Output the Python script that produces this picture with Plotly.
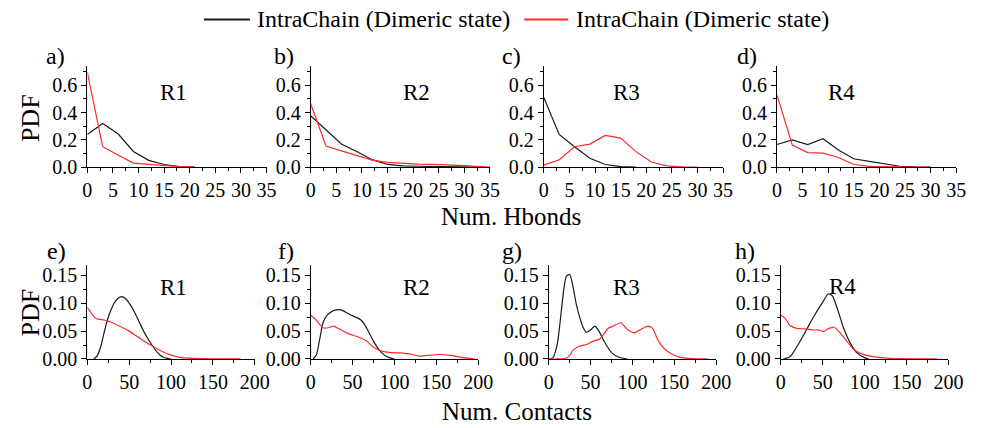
import plotly.graph_objects as go

# ---------------- data ----------------
# Top row: Num. Hbonds
a_black_x = [0, 3, 6, 9, 12, 15, 18, 21]
a_black_y = [0.24, 0.32, 0.245, 0.115, 0.05, 0.02, 0.005, 0.0]
a_red_x = [0, 3, 6, 9, 12, 15, 18, 21]
a_red_y = [0.695, 0.15, 0.09, 0.03, 0.02, 0.01, 0.004, 0.0]

b_black_x = [0, 3, 6, 9, 12, 15, 18, 21, 24, 27, 30, 33]
b_black_y = [0.377, 0.27, 0.17, 0.115, 0.055, 0.02, 0.01, 0.007, 0.005, 0.003, 0.001, 0.0]
b_red_x = [0, 3, 6, 9, 12, 15, 18, 21, 24, 27, 30, 33, 35]
b_red_y = [0.465, 0.155, 0.12, 0.085, 0.052, 0.035, 0.028, 0.022, 0.02, 0.018, 0.012, 0.004, 0.0]

c_black_x = [0, 3, 6, 9, 12, 15, 18]
c_black_y = [0.51, 0.24, 0.15, 0.066, 0.02, 0.004, 0.0]
c_red_x = [0, 3, 6, 9, 12, 15, 18, 21, 24, 27, 30]
c_red_y = [0.015, 0.055, 0.15, 0.169, 0.233, 0.213, 0.114, 0.038, 0.01, 0.002, 0.0]

d_black_x = [0, 3, 6, 9, 12, 15, 18, 21, 24, 27, 30]
d_black_y = [0.166, 0.20, 0.166, 0.209, 0.126, 0.062, 0.043, 0.024, 0.007, 0.002, 0.0]
d_red_x = [0, 3, 6, 9, 12, 15, 18, 21, 24, 27, 30]
d_red_y = [0.53, 0.162, 0.107, 0.103, 0.071, 0.02, 0.006, 0.003, 0.001, 0.0, 0.0]

# Bottom row: Num. Contacts
e_black_x = [8, 12, 16, 20, 24, 28, 32, 36, 41, 46, 51, 57, 63, 69, 75, 81, 86, 91, 96, 100]
e_black_y = [0, 0.006, 0.022, 0.047, 0.07, 0.087, 0.1, 0.108, 0.112, 0.108, 0.098, 0.082,
             0.063, 0.045, 0.03, 0.017, 0.008, 0.003, 0.001, 0]
e_red_x = [0, 5, 10, 15, 20, 25, 30, 40, 50, 60, 70, 80, 90, 100, 110, 120, 135, 150, 165, 183]
e_red_y = [0.092, 0.082, 0.073, 0.071, 0.07, 0.068, 0.065, 0.058, 0.05, 0.04, 0.03, 0.021,
           0.013, 0.007, 0.003, 0.0015, 0.0007, 0.0004, 0.0002, 0.0]

f_black_x = [3, 7, 11, 15, 20, 25, 30, 36, 42, 48, 54, 60, 66, 70, 75, 80, 85, 90, 95, 100]
f_black_y = [0, 0.008, 0.037, 0.066, 0.079, 0.085, 0.088, 0.088, 0.084, 0.079, 0.075, 0.07,
             0.058, 0.046, 0.032, 0.02, 0.011, 0.005, 0.002, 0]
f_red_x = [0, 7, 15, 21, 27, 34, 44, 56, 66, 75, 85, 99, 108, 118, 130, 143, 153, 169, 180, 196]
f_red_y = [0.079, 0.069, 0.056, 0.056, 0.059, 0.054, 0.046, 0.04, 0.033, 0.021, 0.014, 0.011,
           0.011, 0.009, 0.005, 0.007, 0.008, 0.006, 0.003, 0]

g_black_x = [0, 5, 10, 12, 15, 18, 21, 25, 29, 33, 37, 41, 45, 50, 55, 60, 65, 70, 76, 84, 94]
g_black_y = [0, 0.002, 0.025, 0.045, 0.085, 0.125, 0.148, 0.152, 0.13, 0.098, 0.075, 0.057,
             0.048, 0.052, 0.059, 0.05, 0.035, 0.022, 0.01, 0.003, 0]
g_red_x = [0, 10, 20, 25, 29, 35, 45, 53, 61, 66, 71, 77, 86, 94, 102, 110, 118, 124, 131,
           139, 147, 157, 167, 180, 190]
g_red_y = [0, 0, 0.001, 0.006, 0.0155, 0.022, 0.026, 0.032, 0.036, 0.045, 0.055, 0.059, 0.065,
           0.053, 0.047, 0.053, 0.059, 0.055, 0.032, 0.017, 0.009, 0.003, 0.001, 0.0002, 0]

h_black_x = [3, 11, 20.7, 30.4, 40, 50, 56.6, 61.6, 67.5, 75, 83, 90.8, 100.5, 105]
h_black_y = [0, 0.004, 0.026, 0.052, 0.078, 0.102, 0.117, 0.113, 0.09, 0.055, 0.028, 0.011, 0.002, 0]
h_red_x = [0, 5, 11, 19, 29, 40, 46, 51, 56, 63.5, 69.5, 77, 87, 95, 106.5, 122, 141.5, 165, 186.5]
h_red_y = [0.079, 0.073, 0.06, 0.055, 0.054, 0.052, 0.052, 0.049, 0.054, 0.057, 0.049, 0.035,
           0.017, 0.01, 0.005, 0.002, 0.0005, 0.0002, 0]

panel_letters = ["a)", "b)", "c)", "d)", "e)", "f)", "g)", "h)"]
region_labels = ["R1", "R2", "R3", "R4", "R1", "R2", "R3", "R4"]
legend_names = ["IntraChain (Dimeric state)", "IntraChain (Dimeric state)"]
x_title_top = "Num. Hbonds"
x_title_bottom = "Num. Contacts"
y_title = "PDF"

# ---------------- layout ----------------
W, H = 982, 428
FONT = "Liberation Serif, Times New Roman, serif"
BLACK = "#1a1a1a"
RED = "#ff2a2a"
TICK_SIZE = 20

series = [
    (a_black_x, a_black_y, a_red_x, a_red_y),
    (b_black_x, b_black_y, b_red_x, b_red_y),
    (c_black_x, c_black_y, c_red_x, c_red_y),
    (d_black_x, d_black_y, d_red_x, d_red_y),
    (e_black_x, e_black_y, e_red_x, e_red_y),
    (f_black_x, f_black_y, f_red_x, f_red_y),
    (g_black_x, g_black_y, g_red_x, g_red_y),
    (h_black_x, h_black_y, h_red_x, h_red_y),
]

top_x = [(84, 267), (312, 495), (550, 733), (788, 971)]
bot_x = [(84, 255), (312, 483), (555, 726), (792, 963)]
top_y = (67, 171)
bot_y = (272, 368.3)

def px2x(p):
    return p / W

def px2y(p):
    return 1 - p / H

fig = go.Figure()
layout = dict(
    width=W, height=H,
    margin=dict(l=0, r=0, t=0, b=0),
    paper_bgcolor="white", plot_bgcolor="white",
    font=dict(family=FONT, size=TICK_SIZE, color="black"),
    showlegend=False,
    hovermode=False,
    # bottom row x title drawn as the layout title (not clamped like annotations)
    title=dict(text=x_title_bottom, x=px2x(517), xanchor="center", xref="container",
               y=px2y(411), yanchor="middle", yref="container",
               font=dict(family=FONT, size=25, color="black")),
)

annotations = []
shapes = []
for i in range(8):
    top = i < 4
    k = i + 1
    xs = "" if k == 1 else str(k)
    xd = top_x[i] if top else bot_x[i - 4]
    yd = top_y if top else bot_y
    common = dict(showline=True, linecolor="black", linewidth=1, showgrid=False,
                  zeroline=False, ticks="outside", tickcolor="black", ticklen=5,
                  tickwidth=1, tickfont=dict(family=FONT, size=TICK_SIZE, color="black"))
    if top:
        xax = dict(domain=[px2x(xd[0]), px2x(xd[1])], range=[0, 35], tickmode="linear",
                   tick0=0, dtick=5,
                   minor=dict(ticks="outside", dtick=2.5, ticklen=3, tickcolor="black"),
                   anchor="y" + xs, **common)
        yax = dict(domain=[px2y(yd[1]), px2y(yd[0])], range=[0, 0.74], tickmode="linear",
                   tick0=0, dtick=0.2, tickformat=".1f",
                   minor=dict(ticks="outside", dtick=0.1, ticklen=3, tickcolor="black"),
                   anchor="x" + xs, **common)
    else:
        xax = dict(domain=[px2x(xd[0]), px2x(xd[1])], range=[0, 200], tickmode="linear",
                   tick0=0, dtick=50,
                   minor=dict(ticks="outside", dtick=25, ticklen=3, tickcolor="black"),
                   anchor="y" + xs, **common)
        yax = dict(domain=[px2y(yd[1]), px2y(yd[0])], range=[0, 0.168], tickmode="linear",
                   tick0=0, dtick=0.05, tickformat=".2f",
                   minor=dict(ticks="outside", dtick=0.025, ticklen=3, tickcolor="black"),
                   anchor="x" + xs, **common)
    layout["xaxis" + xs] = xax
    layout["yaxis" + xs] = yax

    bx, by, rx, ry = series[i]
    shape = "linear" if top else "spline"
    fig.add_trace(go.Scatter(x=bx, y=by, mode="lines", xaxis="x" + xs, yaxis="y" + xs,
                             line=dict(color=BLACK, width=1.2, shape=shape, smoothing=0.6),
                             name=legend_names[0]))
    fig.add_trace(go.Scatter(x=rx, y=ry, mode="lines", xaxis="x" + xs, yaxis="y" + xs,
                             line=dict(color=RED, width=1.2, shape=shape, smoothing=0.6),
                             name=legend_names[1]))

# legend drawn by hand (line samples + labels)
LEG_Y = 19
leg_items = [((203, 250), 255, BLACK, legend_names[0]),
             ((530, 575), 581, RED, legend_names[1])]
for (x0, x1), tx, col, name in leg_items:
    shapes.append(dict(type="line", xref="paper", yref="paper", x0=px2x(x0), x1=px2x(x1),
                       y0=px2y(LEG_Y), y1=px2y(LEG_Y), line=dict(color=col, width=2)))
    annotations.append(dict(text=name, x=px2x(tx), y=px2y(LEG_Y), xref="paper", yref="paper",
                            showarrow=False, xanchor="left", yanchor="middle",
                            font=dict(family=FONT, size=24, color="black")))

letter_px = [(52, 57), (285, 57), (517, 57), (757, 57),
             (53, 257), (287, 257), (518, 257), (755, 257)]
region_px = [(172, 94), (420, 94), (634, 94), (854, 94),
             (172, 295), (420, 295), (634, 295), (855, 294)]
for i in range(8):
    lx, ly = letter_px[i]
    annotations.append(dict(text=panel_letters[i], x=px2x(lx), y=px2y(ly), xref="paper",
                            yref="paper", showarrow=False, xanchor="center", yanchor="middle",
                            font=dict(family=FONT, size=24, color="black")))
    rxp, ryp = region_px[i]
    annotations.append(dict(text=region_labels[i], x=px2x(rxp), y=px2y(ryp), xref="paper",
                            yref="paper", showarrow=False, xanchor="center", yanchor="middle",
                            font=dict(family=FONT, size=23, color="black")))

annotations.append(dict(text=x_title_top, x=px2x(517), y=px2y(222), xref="paper", yref="paper",
                        showarrow=False, xanchor="center", yanchor="middle",
                        font=dict(family=FONT, size=25, color="black")))
for yy in (120, 320):
    annotations.append(dict(text=y_title, x=px2x(26), y=px2y(yy), xref="paper", yref="paper",
                            showarrow=False, xanchor="center", yanchor="middle", textangle=-90,
                            font=dict(family=FONT, size=26, color="black")))

layout["annotations"] = annotations
layout["shapes"] = shapes
fig.update_layout(**layout)
fig.write_html("out.html")
